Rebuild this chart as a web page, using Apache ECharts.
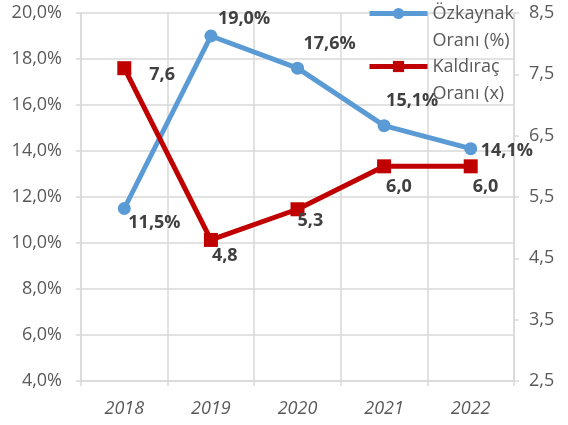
<!DOCTYPE html>
<html>
<head>
<meta charset="utf-8">
<script src="https://cdn.jsdelivr.net/npm/echarts@6/dist/echarts.min.js"></script>
<style>
  html, body { margin: 0; padding: 0; background: #fff; }
  #main { width: 568px; height: 425px; }
</style>
</head>
<body>
<div id="main"></div>
<script>
// veriler
var years = ['2018', '2019', '2020', '2021', '2022'];
var ozkaynak = [11.5, 19.0, 17.6, 15.1, 14.1];   // %
var kaldirac = [7.6, 4.8, 5.3, 6.0, 6.0];        // x
var leftTicks = { min: 4, max: 20, step: 2 };
var rightTicks = { min: 2.5, max: 8.5, step: 1 };

// etiket kaydirmalari (piksel)
var blueOffsets = [[4, 14], [7, -17], [6, -24], [2, -25], [10, 2]];
var redOffsets = [[25, 7], [1, 16], [0, 12], [2, 21], [2, 21]];

var FONT = 'Open Sans';
var gridColor = '#d9d9d9';
var textColor = '#595959';

function comma(v, d) { return v.toFixed(d).replace('.', ','); }

function makeData(vals, offs, fmt) {
  return vals.map(function (v, i) {
    return {
      value: v,
      label: { offset: offs[i], formatter: function () { return fmt(v); } }
    };
  });
}

// lejant: ilk satir ikonla ayni hizada olsun diye basa bos satir
function legendItem(name, top) {
  return {
    data: [name],
    left: 367, top: top, padding: 0,
    itemWidth: 58, itemHeight: 14,
    lineStyle: { width: 5 },
    formatter: function (n) { return '\n' + n; },
    textStyle: { fontSize: 18, color: textColor, lineHeight: 27 }
  };
}

var myChart = echarts.init(document.getElementById('main'));
myChart.setOption({
  animation: false,
  textStyle: { fontFamily: FONT },
  grid: { left: 81, right: 54, top: 13, bottom: 44 },
  legend: [
    legendItem('Özkaynak\nOranı (%)', -27),
    legendItem('Kaldıraç\nOranı (x)', 26)
  ],
  xAxis: {
    type: 'category',
    data: years,
    axisLine: { lineStyle: { color: gridColor, width: 1.5 } },
    axisTick: { show: true, length: 5, lineStyle: { color: gridColor, width: 1.5 } },
    axisLabel: { color: textColor, fontSize: 18, fontStyle: 'italic', margin: 19 },
    splitLine: { show: true, lineStyle: { color: gridColor, width: 1.5 } }
  },
  yAxis: [
    {
      type: 'value',
      min: leftTicks.min, max: leftTicks.max, interval: leftTicks.step,
      axisLine: { show: true, lineStyle: { color: gridColor, width: 1.5 } },
      axisTick: { show: true, length: 5, lineStyle: { color: gridColor, width: 1.5 } },
      axisLabel: { color: textColor, fontSize: 18, margin: 19,
        formatter: function (v) { return comma(v, 1) + '%'; } },
      splitLine: { lineStyle: { color: gridColor, width: 1.5 } }
    },
    {
      type: 'value',
      position: 'right',
      min: rightTicks.min, max: rightTicks.max, interval: rightTicks.step,
      axisLine: { show: true, lineStyle: { color: gridColor, width: 1.5 } },
      axisTick: { show: true, length: 5, lineStyle: { color: gridColor, width: 1.5 } },
      axisLabel: { color: textColor, fontSize: 18, margin: 15,
        formatter: function (v) { return comma(v, 1); } },
      splitLine: { show: false }
    }
  ],
  series: [
    {
      name: 'Özkaynak\nOranı (%)',
      type: 'line',
      yAxisIndex: 0,
      data: makeData(ozkaynak, blueOffsets, function (v) { return comma(v, 1) + '%'; }),
      symbol: 'circle', symbolSize: 13,
      lineStyle: { color: '#5b9bd5', width: 5 },
      itemStyle: { color: '#5b9bd5' },
      label: { show: true, position: 'inside', align: 'left', verticalAlign: 'middle',
        fontSize: 18, fontWeight: 'bold', color: '#404040' }
    },
    {
      name: 'Kaldıraç\nOranı (x)',
      type: 'line',
      yAxisIndex: 1,
      data: makeData(kaldirac, redOffsets, function (v) { return comma(v, 1); }),
      symbol: 'rect', symbolSize: 14,
      lineStyle: { color: '#c00000', width: 5 },
      itemStyle: { color: '#c00000' },
      label: { show: true, position: 'inside', align: 'left', verticalAlign: 'middle',
        fontSize: 18, fontWeight: 'bold', color: '#404040' }
    }
  ]
});
</script>
</body>
</html>
